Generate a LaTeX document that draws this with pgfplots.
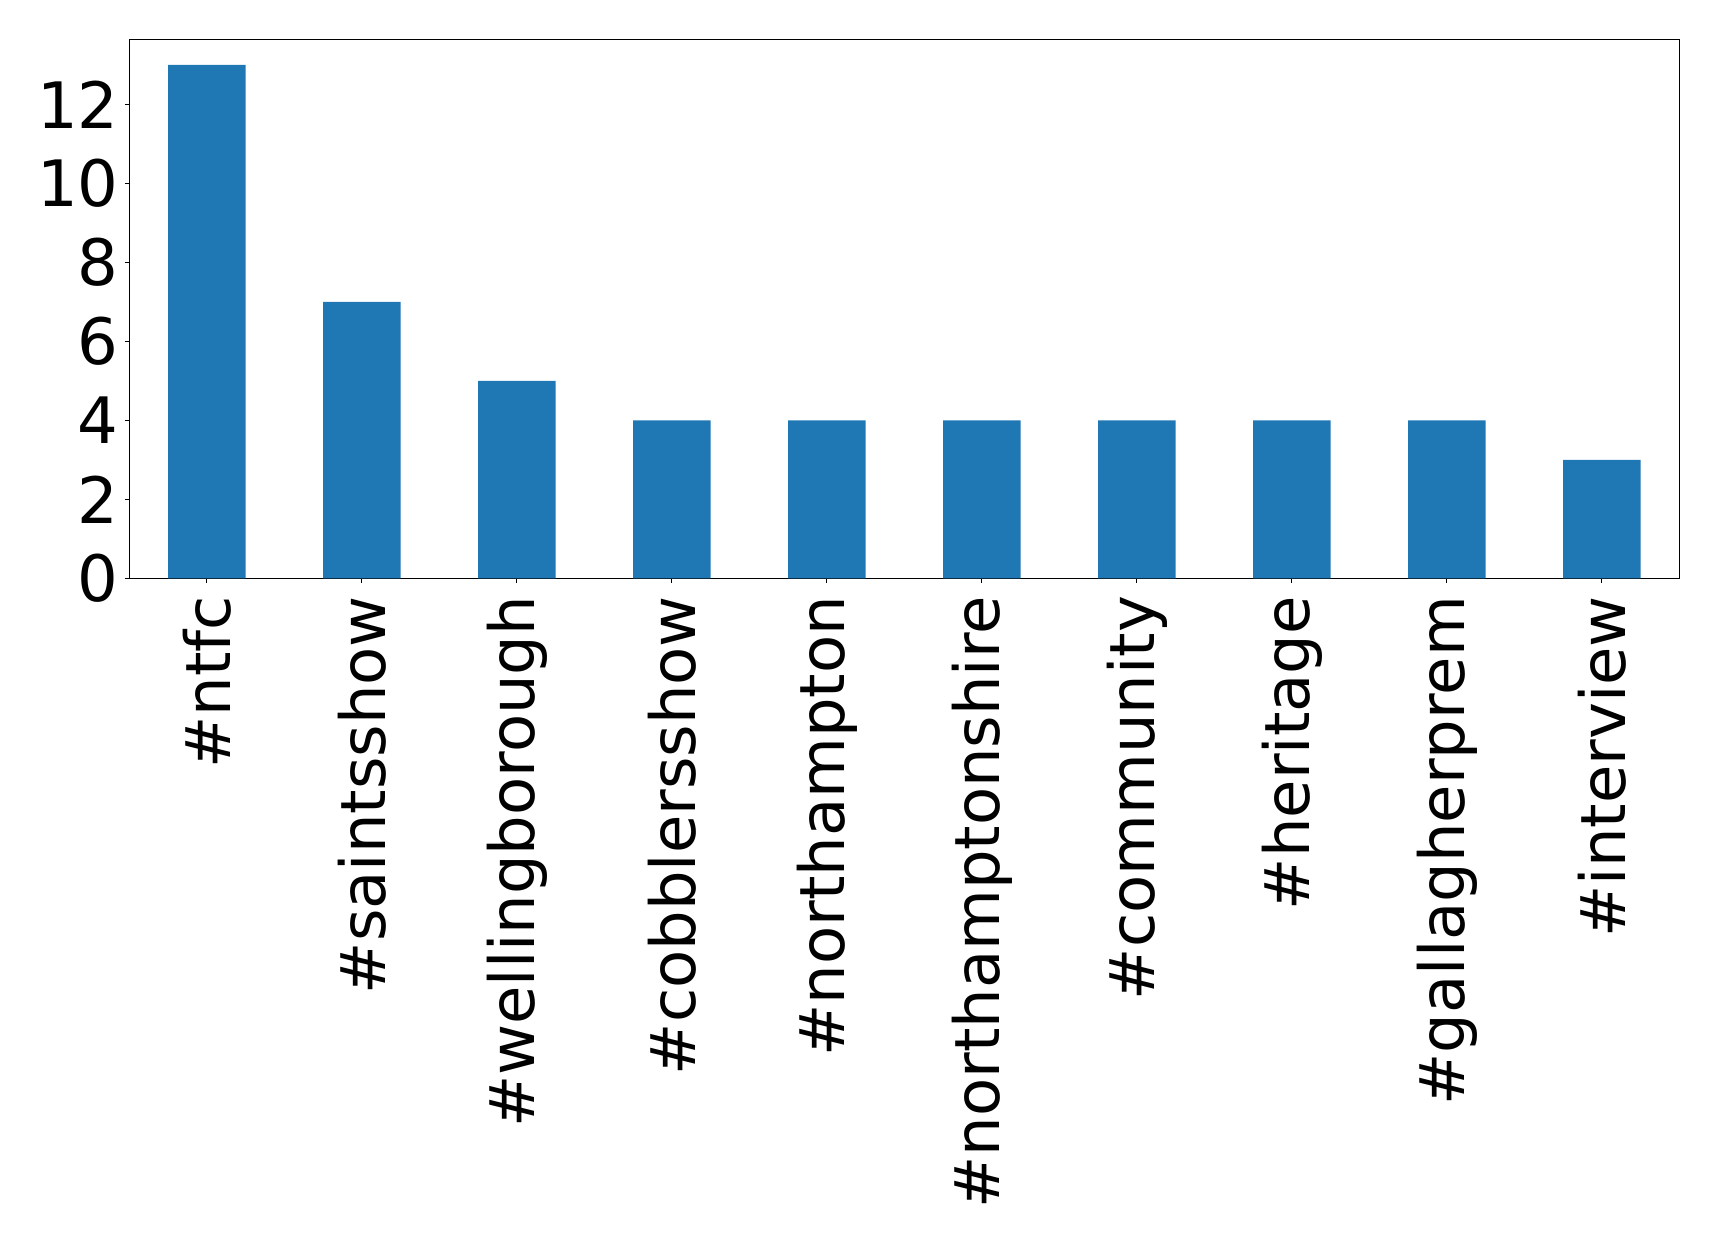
\documentclass[border=0pt]{standalone}
\usepackage{pgfplots}
\pgfplotsset{compat=1.18}
\usepackage{fontspec}
\setmainfont{DejaVu Sans}
\definecolor{mplblue}{HTML}{1F77B4}
\begin{document}
\begin{tikzpicture}
\begin{axis}[
  at={(0,0)}, anchor=south west,
  scale only axis,
  width=775pt, height=269.5pt,
  xmin=-0.5, xmax=9.5, ymin=0, ymax=13.65,
  axis line style={line width=0.5pt},
  tick style={line width=0.5pt, black},
  major tick length=2.2pt,
  tick align=outside,
  xtick pos=lower, ytick pos=left,
  xtick={0,...,9},
  xticklabels={\#ntfc,\#saintsshow,\#wellingborough,\#cobblersshow,\#northampton,\#northamptonshire,\#community,\#heritage,\#gallagherprem,\#interview},
  ytick={0,2,4,6,8,10,12},
  /pgf/number format/assume math mode=true,
  yticklabel style={font=\fontsize{32}{38}\selectfont, inner sep=0pt, xshift=-3pt},
  xticklabel style={font=\fontsize{31.2}{37}\selectfont, yshift=-6.5pt, rotate=90, anchor=east, inner sep=0pt},
]
\addplot[ybar, bar width=0.5, fill=mplblue, draw=none] coordinates {
  (0,13) (1,7) (2,5) (3,4) (4,4) (5,4) (6,4) (7,4) (8,4) (9,3)
};
\end{axis}
\pgfresetboundingbox
\path[use as bounding box] (-64.65pt,-331.35pt) rectangle (794.85pt,289.15pt);
\end{tikzpicture}
\end{document}
